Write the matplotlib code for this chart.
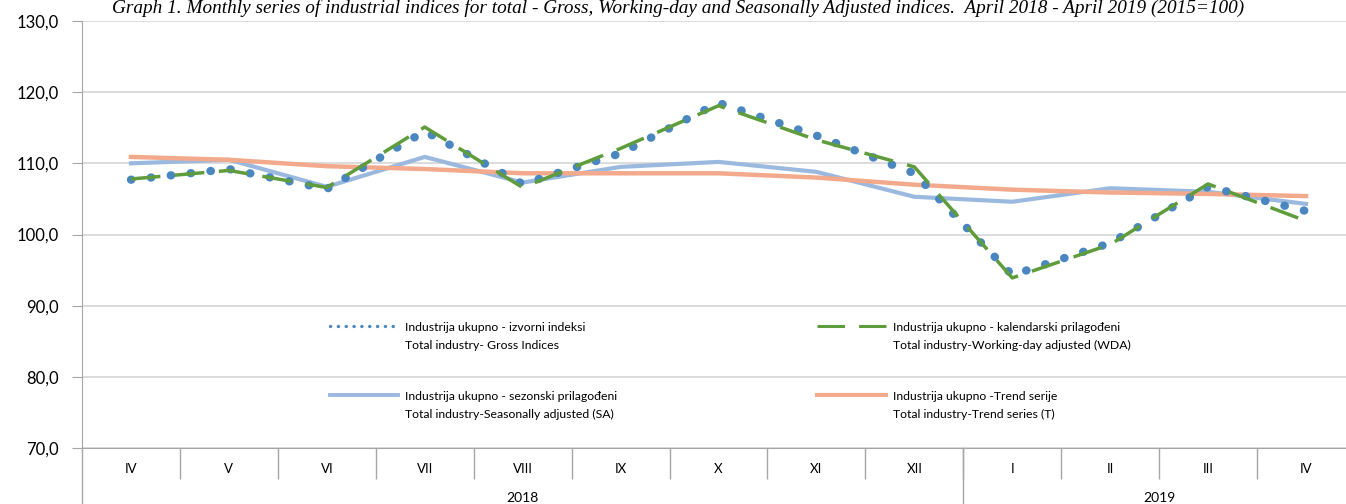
import matplotlib
matplotlib.use('Agg')
import numpy as np
import matplotlib.pyplot as plt
from matplotlib.lines import Line2D
from matplotlib.legend_handler import HandlerLine2D
from matplotlib.ticker import FixedLocator, FuncFormatter
from matplotlib.transforms import blended_transform_factory

# monthly values, April 2018 - April 2019 (2015=100)
months = ['IV', 'V', 'VI', 'VII', 'VIII', 'IX', 'X', 'XI', 'XII', 'I', 'II', 'III', 'IV']
gross = [107.7, 109.2, 106.4, 114.5, 107.1, 111.4, 118.5, 113.9, 108.6, 94.3, 98.8, 106.7, 103.3]
wda = [107.8, 109.0, 106.6, 115.1, 106.6, 112.1, 118.1, 113.3, 109.5, 93.9, 98.6, 107.1, 101.9]
sa = [110.0, 110.5, 106.7, 110.9, 107.3, 109.5, 110.2, 108.8, 105.3, 104.6, 106.5, 106.0, 104.3]
trend = [110.9, 110.5, 109.6, 109.2, 108.6, 108.6, 108.6, 108.0, 107.0, 106.3, 105.9, 105.7, 105.4]

years = ['2018', '2019']
year_first = [0, 9]   # index of first month in each year
year_last = [8, 12]

labels = {
    'gross': 'Industrija ukupno - izvorni indeksi\nTotal industry- Gross Indices',
    'wda': 'Industrija ukupno - kalendarski prilagođeni\nTotal industry-Working-day adjusted (WDA)',
    'sa': 'Industrija ukupno - sezonski prilagođeni\nTotal industry-Seasonally adjusted (SA)',
    'trend': 'Industrija ukupno -Trend serije\nTotal industry-Trend series (T)',
}
title = ('Graph 1. Monthly series of industrial indices for total - Gross, Working-day and '
         'Seasonally Adjusted indices.  April 2018 - April 2019 (2015=100)')

c_gross = '#4a87c1'
c_wda = '#5f9c3b'
c_sa = '#9bb9de'
c_trend = '#f3a98c'
c_axis = '#a6a6a6'


class TopLine(HandlerLine2D):
    # legend sample sits on the first text line, not in the middle
    def create_artists(self, legend, orig_handle, xdescent, ydescent, width, height, fontsize, trans):
        arts = super().create_artists(legend, orig_handle, xdescent, ydescent,
                                      width, height, fontsize, trans)
        for a in arts:
            a.set_ydata(np.asarray(a.get_ydata()) + 7.5)
        return arts


plt.rcParams['font.family'] = ['Lato', 'DejaVu Sans']

W, H = 1346, 504
fig = plt.figure(figsize=(W / 100, H / 100), dpi=100)
ax = fig.add_axes([82 / W, 1 - 448 / H, 1273 / W, 427 / H])

x = list(range(len(months)))
ax.plot(x, sa, color=c_sa, lw=3.0, zorder=2)
ax.plot(x, trend, color=c_trend, lw=3.2, zorder=3)
ax.plot(x, gross, color=c_gross, lw=6.0, dashes=(0.05, 2.35), dash_capstyle='round', zorder=4)
ax.plot(x, wda, color=c_wda, lw=2.5, dashes=(8.5, 4.2), zorder=5)

# y axis
ax.set_ylim(70, 130)
ax.set_yticks(range(70, 131, 10))
ax.yaxis.set_major_formatter(FuncFormatter(lambda v, p: f'{v:.1f}'.replace('.', ',')))
ax.yaxis.grid(True, color='#d9d9d9', lw=1.3)
ax.set_axisbelow(True)
ax.tick_params(axis='y', length=7, color=c_axis, labelsize=12, pad=10)

# x axis, months with year row below
ax.set_xlim(-0.5, len(months) - 0.5)
ax.set_xticks(x)
ax.set_xticklabels(months)
ax.xaxis.set_minor_locator(FixedLocator([i + 0.5 for i in range(len(months) - 1)]))
ax.tick_params(axis='x', which='major', length=0, labelsize=9.5, pad=11)
ax.tick_params(axis='x', which='minor', length=22, color=c_axis, width=1)

for s in ['top', 'right']:
    ax.spines[s].set_visible(False)
ax.spines['left'].set_color(c_axis)
ax.spines['bottom'].set_color(c_axis)

below = -(H - 448) / 427
ax.axvline(-0.5, ymin=below, ymax=0, clip_on=False, color=c_axis, lw=1)
ax.axvline(year_last[0] + 0.5, ymin=below, ymax=0, clip_on=False, color=c_axis, lw=1)
tr = blended_transform_factory(ax.transData, ax.transAxes)
for yr, a, b in zip(years, year_first, year_last):
    ax.text((a + b) / 2, -0.118, yr, transform=tr, ha='center', va='center', fontsize=10)

# legend with thinner sample lines
h_gross = Line2D([], [], color=c_gross, lw=2.4, dashes=(0.05, 2.3), dash_capstyle='round')
h_wda = Line2D([], [], color=c_wda, lw=2.2, dashes=(9, 4.6))
h_sa = Line2D([], [], color=c_sa, lw=2.8)
h_trend = Line2D([], [], color=c_trend, lw=3.0)
leg = ax.legend([h_gross, h_sa, h_wda, h_trend],
                [labels['gross'], labels['sa'], labels['wda'], labels['trend']],
                ncol=2, loc='upper left',
                bbox_to_anchor=((330 - 82) / 1273, (448 - 322) / 427),
                frameon=False, fontsize=8.8, handlelength=5.6, handletextpad=0.57,
                columnspacing=16.35, labelspacing=3.25, borderpad=0, borderaxespad=0,
                handler_map={Line2D: TopLine()})
for t in leg.get_texts():
    t.set_linespacing(1.8)

fig.text(678 / W, 1 - 13 / H, title, ha='center', va='baseline', fontsize=13.9,
         fontstyle='italic', family=['Liberation Serif', 'DejaVu Serif'])

fig.savefig('out.png', dpi=100)
